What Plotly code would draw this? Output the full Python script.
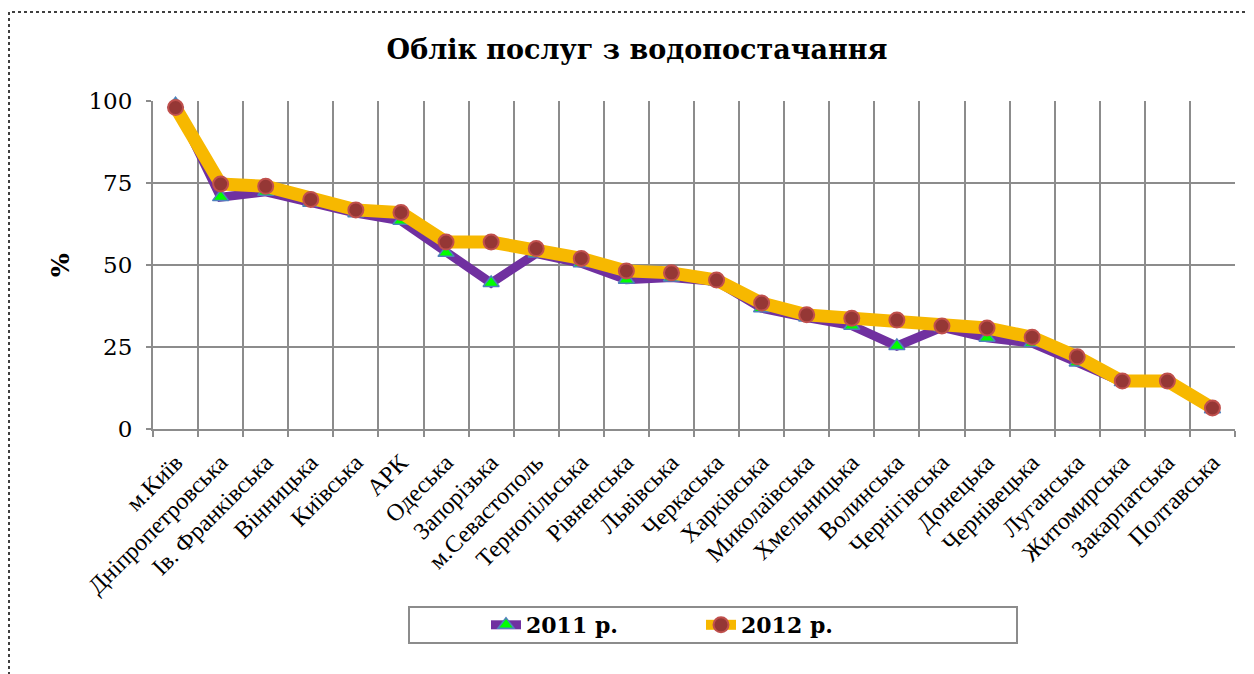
import plotly.graph_objects as go

regions = ["м.Київ", "Дніпропетровська", "Ів. Франківська", "Вінницька", "Київська", "АРК",
           "Одеська", "Запорізька", "м.Севастополь", "Тернопільська", "Рівненська", "Львівська",
           "Черкаська", "Харківська", "Миколаївська", "Хмельницька", "Волинська", "Чернігівська",
           "Донецька", "Чернівецька", "Луганська", "Житомирська", "Закарпатська", "Полтавська"]
v2011 = [99, 70.7, 72.3, 69, 65.8, 63.5, 53.7, 44.5, 53.5, 50.5, 45.5, 46.2,
         45, 36.8, 34, 31.5, 25.3, 31, 27.8, 26.2, 20.3, 14.3, 14.3, 6]
v2012 = [98, 74.7, 74, 70, 66.8, 66, 57, 57, 55, 52, 48.2, 47.6,
         45.4, 38.4, 34.8, 33.8, 33.2, 31.4, 30.8, 28, 22, 14.6, 14.6, 6.4]
yticks = [0, 25, 50, 75, 100]

W, H = 1254, 674
OFF = 8  # page body margin
# target plot-area edges in screenshot pixels
L, R, T, B = 153, 1235, 101, 429


def px(x):
    return (x - L) / (R - L)


def py(y):
    return (B - y) / (B - T)


fig = go.Figure()
fig.add_trace(go.Scatter(
    x=regions, y=v2011, name="2011 р.", mode="lines+markers",
    line=dict(color="#7030a0", width=9),
    marker=dict(symbol="triangle-up", size=14, color="#00ff00",
                line=dict(color="#4f81bd", width=1.5)),
    cliponaxis=False))
fig.add_trace(go.Scatter(
    x=regions, y=v2012, name="2012 р.", mode="lines+markers",
    line=dict(color="#f7b800", width=13),
    marker=dict(symbol="circle", size=15, color="#953735",
                line=dict(color="#c0504d", width=2)),
    cliponaxis=False))

grid = "#8c8c8c"
fig.update_layout(
    width=W, height=H,
    margin=dict(l=L - OFF, r=W - R + OFF, t=T - OFF, b=H - B + OFF, pad=0),
    paper_bgcolor="white", plot_bgcolor="white",
    title=dict(text="Облік послуг з водопостачання", x=(637 - OFF) / W, xref="container",
               y=1 - (50 - OFF) / H, yref="container", xanchor="center", yanchor="middle",
               font=dict(family="DejaVu Serif", size=27, color="black", weight="bold")),
    xaxis=dict(type="category", range=[-0.5, len(regions) - 0.5],
               tickson="boundaries", showgrid=True, gridcolor=grid, gridwidth=2,
               showline=True, linecolor=grid, linewidth=2,
               ticks="outside", ticklen=6, tickcolor=grid, tickwidth=2,
               ticklabelstandoff=8,
               tickangle=-45, tickfont=dict(family="Liberation Serif", size=24, color="black")),
    yaxis=dict(range=[0, 100], tickvals=yticks, showgrid=True, gridcolor=grid, gridwidth=2,
               showline=True, linecolor=grid, linewidth=2,
               ticks="outside", ticklen=5, tickcolor=grid, tickwidth=2,
               ticklabelstandoff=9,
               tickfont=dict(family="DejaVu Serif", size=23, color="black"),
               title=dict(text="%", standoff=12,
                          font=dict(family="DejaVu Serif", size=25, color="black", weight="bold"))),
    legend=dict(orientation="h", x=px(486), xanchor="left", y=py(625), yanchor="middle",
                entrywidth=170, entrywidthmode="pixels", bgcolor="rgba(0,0,0,0)",
                font=dict(family="DejaVu Serif", size=22, color="black", weight="bold")),
    showlegend=True,
    shapes=[
        dict(type="rect", xref="paper", yref="paper",
             x0=px(409), x1=px(1017), y0=py(643), y1=py(607),
             line=dict(color="#8c8c8c", width=2), fillcolor="rgba(0,0,0,0)", layer="below"),
        dict(type="rect", xref="paper", yref="paper",
             x0=px(9), x1=px(1270), y0=py(700), y1=py(12),
             line=dict(color="black", width=1.5, dash="dot"), fillcolor="rgba(0,0,0,0)"),
    ],
)

fig.write_html("out.html")
